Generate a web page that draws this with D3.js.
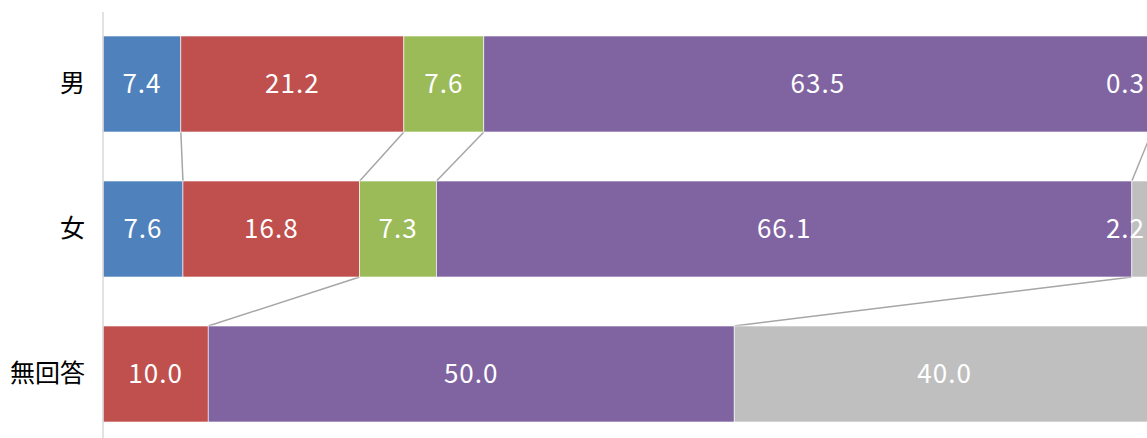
<!DOCTYPE html>
<html><head><meta charset="utf-8">
<script src="https://cdn.jsdelivr.net/npm/d3@7"></script>
<style>body{margin:0;background:#fff;overflow:hidden}</style>
</head><body>
<svg id="c" width="1147" height="438"></svg>
<script>
const categories = ["男", "女", "無回答"];
const seriesNames = ["s1", "s2", "s3", "s4", "s5"];
const s1 = [7.4, 7.6, null];
const s2 = [21.2, 16.8, 10.0];
const s3 = [7.6, 7.3, null];
const s4 = [63.5, 66.1, 50.0];
const s5 = [0.3, 2.2, 40.0];
const seriesValues = [s1, s2, s3, s4, s5];
const colors = ["#4f81bd", "#c0504d", "#9bbb59", "#8064a2", "#bfbfbf"];

const svg = d3.select("#c");
const x = d3.scaleLinear().domain([0, 100]).range([103, 1155]);
const y = d3.scaleBand().domain(categories).range([11.5, 446.5]).paddingInner(0.338).paddingOuter(0.169);

const rows = categories.map((c, i) => {
  const r = {cat: c};
  seriesNames.forEach((s, j) => r[s] = seriesValues[j][i] == null ? 0 : seriesValues[j][i]);
  return r;
});
const stacked = d3.stack().keys(seriesNames)(rows);

// series lines
const lineG = svg.append("g");
stacked.forEach((layer, j) => {
  for (let i = 0; i < categories.length - 1; i++) {
    const a = seriesValues[j][i], b = seriesValues[j][i + 1];
    if (a == null || b == null) continue;
    lineG.append("line")
      .attr("x1", x(layer[i][1])).attr("y1", y(categories[i]) + y.bandwidth())
      .attr("x2", x(layer[i + 1][1])).attr("y2", y(categories[i + 1]))
      .attr("stroke", "#a6a6a6").attr("stroke-width", 1.5);
  }
});

// bars
stacked.forEach((layer, j) => {
  svg.append("g").selectAll("rect").data(layer).join("rect")
    .attr("x", d => x(d[0]))
    .attr("y", (d, i) => y(categories[i]))
    .attr("width", d => x(d[1]) - x(d[0]))
    .attr("height", y.bandwidth())
    .attr("fill", colors[j])
    .attr("stroke", "#fff").attr("stroke-width", 0.6);
});

// labels
const maxRight = 1145;
stacked.forEach((layer, j) => {
  layer.forEach((d, i) => {
    const v = seriesValues[j][i];
    if (v == null) return;
    let cx = (x(d[0]) + x(d[1])) / 2;
    const t = svg.append("text")
      .attr("y", y(categories[i]) + y.bandwidth() / 2)
      .attr("dy", "0.36em")
      .attr("text-anchor", "middle")
      .attr("fill", "#fff")
      .attr("font-family", "'Noto Sans CJK JP', 'Noto Sans', sans-serif")
      .attr("font-size", 26)
      .attr("letter-spacing", 1)
      .text(v.toFixed(1));
    const w = t.node().getComputedTextLength();
    if (cx + w / 2 > maxRight) cx = maxRight - w / 2;
    t.attr("x", cx);
  });
});

// axis
const axis = svg.append("g").attr("transform", "translate(103,0)")
  .call(d3.axisLeft(y).tickSize(0).tickPadding(18));
axis.select(".domain").attr("stroke", "#d9d9d9").attr("stroke-width", 1.5)
  .attr("d", "M0,12V438");
axis.selectAll("text").attr("font-size", 25).attr("fill", "#000")
  .attr("font-family", "'Noto Sans CJK JP', sans-serif");
</script>
</body></html>
